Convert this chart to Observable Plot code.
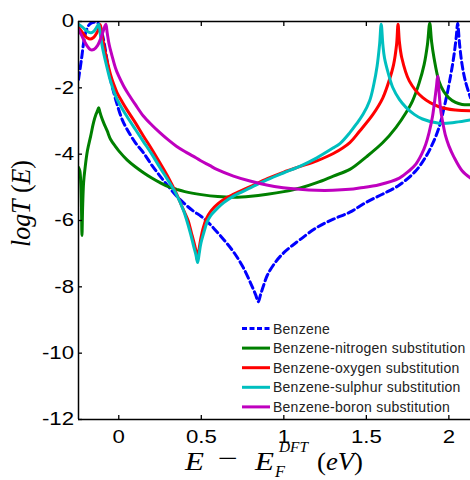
<!DOCTYPE html>
<html><head><meta charset="utf-8">
<script src="https://cdn.jsdelivr.net/npm/d3@7"></script>
<script src="https://cdn.jsdelivr.net/npm/@observablehq/plot@0.6"></script>
<style>
html,body{margin:0;padding:0;background:#fff;overflow:hidden}
#wrap{width:470px;height:480px}
</style></head><body><div id="wrap"></div>
<script>
const seriesNames = ["Benzene","Benzene-nitrogen substitution","Benzene-oxygen substitution","Benzene-sulphur substitution","Benzene-boron substitution"];
const seriesColors = ["#0000ff","#008000","#ff0000","#00bfbf","#bf00bf"];
const xTicks = [0, 0.5, 1, 1.5, 2];
const yTicks = [0, -2, -4, -6, -8, -10, -12];
const xDomain = [-0.244, 2.131];
const yDomain = [-12, 0];

const benzeneE = [-0.244,-0.225,-0.21,-0.195,-0.18,-0.165,-0.15,-0.135,-0.12,-0.108,-0.098,-0.088,-0.07,-0.05,-0.03,-0.01,0.02,0.05,0.1,0.15,0.2,0.25,0.3,0.35,0.4,0.45,0.5,0.55,0.6,0.65,0.7,0.75,0.8,0.83,0.845,0.86,0.88,0.9,0.95,1.0,1.05,1.1,1.2,1.3,1.4,1.5,1.6,1.7,1.8,1.86,1.9,1.94,1.98,2.01,2.03,2.045,2.053,2.065,2.08,2.1,2.131];
const benzeneT = [-1.75,-1.1,-0.55,-0.25,-0.1,-0.04,-0.02,-0.03,-0.08,-0.22,-0.42,-0.66,-1.2,-1.75,-2.15,-2.5,-2.95,-3.25,-3.65,-3.96,-4.33,-4.66,-4.97,-5.26,-5.5,-5.71,-5.88,-6.1,-6.37,-6.66,-6.98,-7.38,-7.9,-8.25,-8.45,-8.22,-7.92,-7.65,-7.25,-6.97,-6.76,-6.57,-6.21,-5.96,-5.75,-5.45,-5.2,-4.93,-4.5,-4.08,-3.7,-3.2,-2.4,-1.65,-1.05,-0.45,-0.05,-0.7,-1.3,-1.8,-2.3];

const nitrogenE = [-0.244,-0.236,-0.23,-0.226,-0.223,-0.219,-0.213,-0.205,-0.19,-0.17,-0.153,-0.138,-0.128,-0.122,-0.115,-0.105,-0.092,-0.07,-0.05,-0.02,0.0,0.05,0.1,0.15,0.2,0.25,0.3,0.35,0.4,0.5,0.6,0.7,0.8,0.9,1.0,1.1,1.2,1.3,1.4,1.5,1.6,1.68,1.74,1.78,1.82,1.85,1.87,1.884,1.895,1.91,1.94,1.97,2.0,2.04,2.08,2.131];
const nitrogenT = [-4.4,-4.5,-4.9,-5.6,-6.45,-5.6,-4.85,-4.45,-3.9,-3.45,-3.05,-2.8,-2.68,-2.6,-2.72,-2.88,-3.05,-3.3,-3.55,-3.77,-3.9,-4.17,-4.38,-4.56,-4.72,-4.86,-4.98,-5.06,-5.13,-5.22,-5.28,-5.3,-5.27,-5.21,-5.13,-5.02,-4.86,-4.66,-4.46,-4.08,-3.65,-3.19,-2.75,-2.39,-1.85,-1.3,-0.7,-0.05,-0.6,-1.1,-1.8,-2.12,-2.3,-2.44,-2.5,-2.51];

const oxygenE = [-0.244,-0.225,-0.205,-0.19,-0.173,-0.155,-0.14,-0.127,-0.118,-0.112,-0.1,-0.085,-0.068,-0.05,-0.03,-0.01,0.02,0.048,0.1,0.149,0.2,0.249,0.3,0.35,0.39,0.42,0.44,0.46,0.47,0.476,0.484,0.495,0.51,0.53,0.56,0.6,0.65,0.7,0.8,0.9,1.0,1.1,1.2,1.3,1.4,1.46,1.54,1.6,1.64,1.665,1.683,1.692,1.7,1.715,1.76,1.84,1.94,2.04,2.131];
const oxygenT = [-0.17,-0.3,-0.43,-0.5,-0.53,-0.49,-0.4,-0.28,-0.17,-0.1,-0.45,-0.85,-1.25,-1.6,-1.9,-2.15,-2.42,-2.65,-3.05,-3.45,-3.85,-4.26,-4.7,-5.2,-5.66,-6.0,-6.37,-6.75,-6.97,-7.2,-6.95,-6.6,-6.25,-5.95,-5.7,-5.5,-5.32,-5.2,-4.97,-4.74,-4.54,-4.37,-4.2,-3.98,-3.65,-3.3,-2.8,-2.3,-1.75,-1.3,-0.7,-0.08,-0.6,-1.1,-1.79,-2.29,-2.57,-2.67,-2.69];

const sulphurE = [-0.244,-0.22,-0.2,-0.183,-0.168,-0.152,-0.14,-0.13,-0.122,-0.11,-0.1,-0.085,-0.068,-0.05,-0.03,-0.01,0.02,0.048,0.1,0.149,0.2,0.249,0.3,0.35,0.394,0.435,0.455,0.468,0.478,0.487,0.497,0.515,0.535,0.556,0.6,0.636,0.7,0.8,0.9,1.0,1.1,1.2,1.3,1.34,1.4,1.44,1.48,1.52,1.545,1.565,1.58,1.59,1.6,1.61,1.635,1.66,1.7,1.74,1.79,1.84,1.94,2.04,2.131];
const sulphurT = [-0.08,-0.17,-0.26,-0.32,-0.34,-0.3,-0.22,-0.14,-0.08,-0.45,-0.75,-1.1,-1.45,-1.8,-2.1,-2.35,-2.62,-2.85,-3.25,-3.62,-4.0,-4.4,-4.8,-5.22,-5.72,-6.4,-6.8,-7.05,-7.27,-7.0,-6.7,-6.37,-6.05,-5.86,-5.62,-5.46,-5.25,-5.01,-4.77,-4.56,-4.36,-4.11,-3.81,-3.68,-3.35,-3.09,-2.8,-2.39,-1.9,-1.35,-0.7,-0.08,-0.7,-1.1,-1.6,-1.99,-2.35,-2.59,-2.8,-2.94,-3.07,-3.04,-2.97];

const boronE = [-0.244,-0.225,-0.21,-0.19,-0.172,-0.15,-0.128,-0.11,-0.095,-0.085,-0.078,-0.07,-0.058,-0.04,-0.02,0.0,0.03,0.06,0.1,0.149,0.2,0.249,0.3,0.349,0.4,0.45,0.494,0.55,0.594,0.695,0.795,0.896,0.996,1.096,1.197,1.297,1.398,1.458,1.578,1.7,1.76,1.8,1.835,1.86,1.88,1.9,1.915,1.925,1.932,1.94,1.95,1.965,1.98,2.0,2.03,2.08,2.131];
const boronT = [-0.25,-0.42,-0.58,-0.75,-0.85,-0.84,-0.72,-0.52,-0.3,-0.15,-0.08,-0.35,-0.7,-1.05,-1.4,-1.65,-1.95,-2.2,-2.5,-2.85,-3.12,-3.35,-3.57,-3.76,-3.92,-4.06,-4.19,-4.34,-4.46,-4.66,-4.81,-4.93,-5.01,-5.06,-5.09,-5.09,-5.06,-5.02,-4.92,-4.72,-4.5,-4.3,-4.0,-3.7,-3.35,-2.89,-2.35,-1.95,-1.65,-2.1,-2.65,-3.1,-3.45,-3.75,-4.08,-4.5,-4.72];

const Es = [benzeneE, nitrogenE, oxygenE, sulphurE, boronE];
const Ts = [benzeneT, nitrogenT, oxygenT, sulphurT, boronT];
const rows = seriesNames.map((name, i) => Es[i].map((e, j) => ({name, E: e, T: Ts[i][j]})));
Es.forEach((e,i)=>{ if (e.length !== Ts[i].length) console.warn("length mismatch", seriesNames[i], e.length, Ts[i].length); });

const sansFont = "'Liberation Sans', Arial, sans-serif";
const serifFont = "'Liberation Serif', 'Times New Roman', serif";

const plot = Plot.plot({
  width: 470, height: 480,
  marginLeft: 78, marginRight: 0, marginTop: 21, marginBottom: 61,
  style: {fontFamily: sansFont, fontSize: "18.5px", background: "#fff", color: "#000", overflow: "visible"},
  x: {domain: xDomain, label: null},
  y: {domain: yDomain, label: null},
  marks: [
    ...rows.map((data, i) => Plot.line(data, {
      x: "E", y: "T", stroke: seriesColors[i], strokeWidth: 3,
      strokeDasharray: i === 0 ? "7,4" : null, curve: "catmull-rom", clip: true
    })),
    Plot.ruleY([yDomain[0]], {stroke: "#000", strokeWidth: 1.5}),
    Plot.ruleY([yDomain[1]], {stroke: "#000", strokeWidth: 1.5}),
    Plot.ruleX([xDomain[0]], {stroke: "#000", strokeWidth: 1.5}),
    Plot.axisX({anchor: "bottom", ticks: xTicks, tickSize: 0, tickPadding: 10, tickFormat: d => String(d)}),
    Plot.axisX({anchor: "bottom", ticks: xTicks, tickSize: -4, tickFormat: () => "", strokeWidth: 1.3}),
    Plot.axisX({anchor: "top", ticks: xTicks, tickSize: -4, tickFormat: () => "", strokeWidth: 1.3}),
    Plot.axisY({anchor: "left", ticks: yTicks, tickSize: 0, tickPadding: 4.5, tickFormat: d => String(d)}),
    Plot.axisY({anchor: "left", ticks: yTicks, tickSize: -4, tickFormat: () => "", strokeWidth: 1.3})
  ]
});
document.getElementById("wrap").appendChild(plot);

// horizontally stretch tick labels like the reference
plot.querySelectorAll('g[aria-label$="tick label"] text').forEach(t => {
  if (!t.textContent) return;
  const w = t.getComputedTextLength();
  t.setAttribute("textLength", (w * 1.2).toFixed(2));
  t.setAttribute("lengthAdjust", "spacingAndGlyphs");
});

const svg = d3.select(plot);

// x axis label: E − E_F^{DFT}(eV)
const xl = svg.append("g").attr("fill", "#000").attr("text-anchor", "start")
  .style("font-family", serifFont).style("font-weight", "normal");
function piece(g, x, y, size, italic, txt, len) {
  const t = g.append("text").attr("x", x).attr("y", y).attr("text-anchor", "start")
    .style("font-size", size + "px").style("font-weight", "normal")
    .style("font-style", italic ? "italic" : "normal").text(txt);
  if (len) t.attr("textLength", len).attr("lengthAdjust", "spacingAndGlyphs");
  return t;
}
piece(xl, 185, 470, 26, true, "E", 19);
piece(xl, 218, 467, 26, false, "\u2212", 20);
piece(xl, 255, 470, 26, true, "E", 19);
piece(xl, 275, 477, 16, true, "F", 10);
piece(xl, 279, 452, 15, true, "DFT", 29);
const ev = xl.append("text").attr("x", 317).attr("y", 470).attr("text-anchor", "start")
  .style("font-size", "26px").style("font-weight", "normal")
  .attr("textLength", 46).attr("lengthAdjust", "spacingAndGlyphs");
ev.append("tspan").text("(");
ev.append("tspan").style("font-style", "italic").text("eV");
ev.append("tspan").text(")");

// y axis label: logT (E)
const yl = svg.append("text").attr("fill", "#000").attr("text-anchor", "start")
  .style("font-family", serifFont).style("font-size", "24px").style("font-weight", "normal")
  .attr("transform", "translate(30,247) rotate(-90) scale(1,1.1)")
  .attr("textLength", 87).attr("lengthAdjust", "spacingAndGlyphs");
yl.append("tspan").style("font-style", "italic").text("logT");
yl.append("tspan").text(" (");
yl.append("tspan").style("font-style", "italic").text("E");
yl.append("tspan").text(")");

// legend inside the plot area
const lg = svg.append("g").attr("text-anchor", "start").style("font-family", sansFont).style("font-size", "14px");
seriesNames.forEach((n, i) => {
  const y = 328.5 + i * 19.6;
  lg.append("line").attr("x1", 242).attr("x2", 270).attr("y1", y).attr("y2", y)
    .attr("stroke", seriesColors[i]).attr("stroke-width", 3)
    .attr("stroke-dasharray", i === 0 ? "5,2.5" : null);
  lg.append("text").attr("x", 273).attr("y", y + 5).attr("text-anchor", "start")
    .attr("fill", "#222").style("letter-spacing", "0.25px").text(n);
});
</script>
</body></html>
